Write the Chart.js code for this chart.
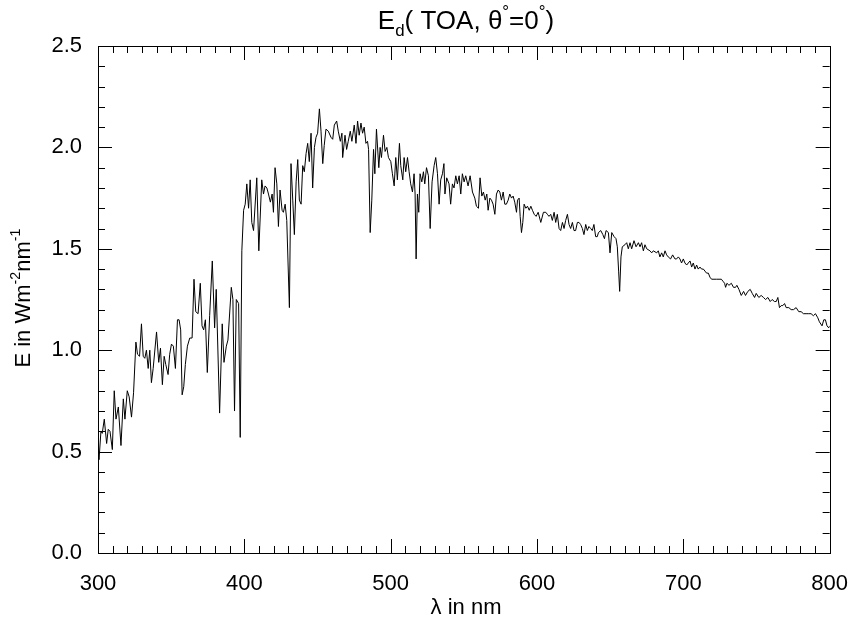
<!DOCTYPE html>
<html>
<head>
<meta charset="utf-8">
<script src="https://cdn.jsdelivr.net/npm/chart.js@4.4.0/dist/chart.umd.min.js"></script>
<style>
  html, body { margin: 0; padding: 0; background: #fff; }
</style>
</head>
<body>
<canvas id="spectrum" width="858" height="622"></canvas>
<script>
// wavelength (nm) and top-of-atmosphere irradiance
var wavelengths = [
  300.0,300.7,302.0,302.9,304.3,305.9,307.0,308.2,309.8,311.1,312.3,313.9,315.7,317.3,318.4,320.0,
  321.3,322.9,324.3,325.9,327.0,328.4,329.7,330.9,332.0,333.1,334.3,335.4,336.5,337.7,340.0,341.5,
  342.7,344.0,345.2,346.3,347.9,349.0,350.2,351.5,352.9,354.3,355.4,356.5,357.5,358.6,359.7,361.1,
  362.7,364.3,365.6,366.8,368.4,369.9,371.1,372.2,373.4,374.7,376.3,378.1,379.7,380.8,383.1,384.9,
  386.1,387.7,388.8,391.1,392.2,393.3,394.5,396.1,397.2,398.3,399.5,400.6,401.7,402.9,404.0,405.1,
  406.3,408.5,409.9,411.9,413.1,414.2,415.4,416.5,417.8,419.0,419.9,421.0,422.2,423.3,424.4,425.8,
  426.7,427.9,429.0,430.8,431.9,433.1,434.2,435.4,436.5,437.6,438.8,439.9,441.0,442.2,443.3,444.4,
  445.6,446.7,447.9,449.0,450.1,451.3,452.4,453.6,454.6,455.8,457.4,459.2,460.4,461.5,463.1,464.2,
  465.6,466.7,467.2,468.8,469.9,471.0,472.4,473.5,475.1,476.3,477.4,478.5,479.7,480.8,481.9,483.1,
  484.2,484.9,486.0,487.1,488.3,489.2,490.3,491.9,492.8,493.7,495.1,496.2,497.4,498.5,500.1,501.2,
  502.4,503.5,504.6,506.0,506.9,508.3,509.2,510.3,511.5,512.6,513.7,514.9,516.0,516.7,517.4,518.3,
  519.2,520.1,521.3,522.4,523.3,524.5,525.8,527.0,528.3,529.7,530.8,532.0,533.1,534.2,535.4,536.4,
  537.1,538.3,539.9,541.0,542.2,543.3,544.5,545.6,546.8,547.9,549.0,550.2,551.3,552.9,554.3,555.9,
  557.5,558.6,560.0,561.1,562.3,563.4,564.6,565.7,566.6,567.8,568.9,570.0,571.2,572.3,573.5,574.6,
  575.7,576.9,578.0,579.1,580.3,581.4,582.6,583.7,584.8,586.0,586.7,587.8,588.5,589.4,590.3,591.2,
  592.4,593.5,594.7,595.8,596.9,598.1,599.4,600.8,602.6,604.4,606.0,607.1,608.2,609.4,610.5,611.7,
  612.8,613.9,615.1,616.2,617.4,618.5,619.6,620.8,621.9,623.0,624.2,625.3,626.4,627.6,628.7,629.8,
  631.0,632.1,633.3,634.4,635.5,636.7,637.8,638.9,640.1,641.2,642.0,643.6,645.0,646.1,647.2,648.8,
  649.9,651.1,652.7,654.0,654.9,655.8,656.5,657.4,658.3,660.1,661.3,662.4,663.6,664.7,666.3,667.7,
  669.3,670.4,671.5,672.7,673.8,675.0,677.2,678.4,679.5,681.8,682.9,684.0,685.2,686.3,687.5,688.6,
  689.7,691.3,692.7,694.3,695.4,696.6,697.7,698.8,700.0,701.1,702.3,703.4,704.6,705.7,706.8,708.0,
  709.1,710.2,711.4,712.5,713.7,714.8,715.9,717.1,718.2,719.3,720.3,722.6,724.4,726.0,727.1,728.2,
  728.9,729.8,731.2,732.8,734.3,735.7,736.6,738.0,739.6,741.2,742.5,744.1,745.7,747.1,748.7,749.8,
  751.6,753.2,754.8,756.2,757.8,759.4,760.7,762.3,763.5,764.6,765.7,766.9,768.0,769.2,770.3,772.1,
  773.7,775.3,777.1,778.9,780.5,782.1,783.9,785.7,787.3,788.9,790.3,791.9,793.0,794.8,796.0,797.1,
  798.2,799.4,800.0
];
var irradiance = [
  0.52,0.46,0.60,0.59,0.66,0.54,0.61,0.60,0.51,0.80,0.66,0.72,0.53,0.76,0.66,0.80,
  0.77,0.67,0.79,1.04,0.98,0.97,1.13,0.97,0.96,1.00,0.91,1.00,0.84,0.91,1.09,0.94,
  1.01,0.83,0.97,0.93,0.88,0.98,1.03,1.02,0.91,1.15,1.15,1.10,0.78,0.82,0.93,1.02,
  1.06,1.06,1.35,1.19,1.18,1.33,1.12,1.10,1.15,0.89,1.17,1.44,1.11,1.30,0.69,1.13,
  0.94,1.02,1.05,1.31,1.25,0.70,1.25,1.23,0.57,1.49,1.69,1.72,1.82,1.70,1.84,1.63,
  1.59,1.85,1.49,1.84,1.77,1.81,1.80,1.77,1.73,1.77,1.68,1.90,1.82,1.61,1.79,1.69,
  1.68,1.72,1.64,1.21,1.92,1.74,1.57,1.83,1.94,1.74,1.72,1.91,1.88,1.97,2.02,1.93,
  2.07,1.80,2.00,2.05,2.07,2.19,2.08,1.92,2.01,2.09,2.08,2.05,2.04,2.11,2.13,2.08,
  2.03,2.07,1.95,2.06,1.99,2.03,2.08,2.03,2.11,2.02,2.13,2.06,2.12,2.07,2.10,2.02,
  2.03,1.99,1.58,1.74,1.99,1.87,2.09,1.90,2.00,1.95,2.06,1.98,2.00,1.95,1.93,1.87,
  1.81,1.95,1.84,2.02,1.91,1.84,1.95,1.88,1.95,1.88,1.82,1.78,1.87,1.77,1.45,1.77,
  1.68,1.87,1.83,1.88,1.82,1.90,1.86,1.60,1.83,1.91,1.95,1.87,1.72,1.84,1.87,1.92,
  1.77,1.85,1.82,1.72,1.82,1.80,1.86,1.82,1.86,1.77,1.87,1.83,1.86,1.81,1.86,1.78,
  1.75,1.71,1.70,1.85,1.76,1.78,1.74,1.77,1.69,1.75,1.74,1.72,1.67,1.77,1.79,1.78,
  1.74,1.78,1.72,1.72,1.74,1.77,1.75,1.76,1.73,1.68,1.74,1.75,1.66,1.58,1.63,1.72,
  1.70,1.71,1.69,1.71,1.69,1.67,1.66,1.68,1.63,1.68,1.68,1.67,1.66,1.67,1.64,1.68,
  1.63,1.67,1.60,1.59,1.63,1.60,1.64,1.67,1.62,1.60,1.63,1.59,1.59,1.63,1.63,1.62,
  1.60,1.57,1.62,1.59,1.61,1.60,1.59,1.62,1.56,1.56,1.58,1.59,1.57,1.55,1.59,1.58,
  1.48,1.58,1.56,1.55,1.51,1.39,1.29,1.46,1.51,1.52,1.53,1.50,1.53,1.50,1.54,1.51,
  1.53,1.51,1.53,1.49,1.52,1.50,1.49,1.48,1.49,1.48,1.49,1.46,1.48,1.46,1.49,1.47,
  1.46,1.45,1.47,1.45,1.45,1.46,1.45,1.43,1.45,1.43,1.42,1.43,1.44,1.41,1.43,1.40,
  1.42,1.40,1.41,1.40,1.40,1.39,1.38,1.38,1.36,1.35,1.35,1.35,1.35,1.35,1.34,1.33,
  1.31,1.33,1.32,1.33,1.31,1.31,1.32,1.30,1.27,1.29,1.27,1.29,1.30,1.28,1.26,1.28,
  1.26,1.27,1.26,1.25,1.26,1.24,1.25,1.24,1.24,1.26,1.21,1.22,1.22,1.23,1.21,1.21,
  1.20,1.20,1.21,1.19,1.19,1.18,1.18,1.18,1.18,1.17,1.18,1.16,1.14,1.12,1.15,1.15,
  1.12,1.11,1.12
];
var xTicks = [300, 400, 500, 600, 700, 800];
var yTicks = [0.0, 0.5, 1.0, 1.5, 2.0, 2.5];
var xMinorStep = 10;
var yMinorStep = 0.1;

var FONT = '"Liberation Sans", Arial, sans-serif';
Chart.defaults.font.family = FONT;
Chart.defaults.color = '#000';

var points = wavelengths.map(function(w, i){ return {x: w, y: irradiance[i]}; });

// draws a run of text pieces, some of them raised or lowered
function richWidth(ctx, parts, size){
  var w = 0;
  parts.forEach(function(p){
    ctx.font = (p.pos ? size * 0.65 : size) + 'px ' + FONT;
    w += ctx.measureText(p.t).width;
  });
  return w;
}
function drawRich(ctx, parts, x, y, size){
  var cx = x - richWidth(ctx, parts, size) / 2;
  ctx.textAlign = 'left';
  ctx.textBaseline = 'alphabetic';
  parts.forEach(function(p){
    var s = p.pos ? size * 0.65 : size;
    var dy = p.pos === 'sub' ? size * 0.25 : (p.pos === 'sup' ? -size * 0.45 : 0);
    ctx.font = s + 'px ' + FONT;
    ctx.fillText(p.t, cx, y + dy);
    cx += ctx.measureText(p.t).width;
  });
}

var idlFrame = {
  id: 'idlFrame',
  afterDraw: function(chart){
    var ctx = chart.ctx, a = chart.chartArea;
    var xs = chart.scales.x, ys = chart.scales.y;
    ctx.save();
    ctx.strokeStyle = '#000';
    ctx.lineWidth = 1;
    ctx.strokeRect(Math.round(a.left) + 0.5, Math.round(a.top) + 0.5,
                   Math.round(a.right - a.left), Math.round(a.bottom - a.top));
    ctx.beginPath();
    var i, v, p, len;
    for (i = 0; i <= 50; i++){
      v = 300 + i * xMinorStep;
      p = Math.round(xs.getPixelForValue(v)) + 0.5;
      len = (i % 10 === 0) ? 14 : 7;
      ctx.moveTo(p, a.bottom); ctx.lineTo(p, a.bottom - len);
      ctx.moveTo(p, a.top); ctx.lineTo(p, a.top + len);
    }
    for (i = 0; i <= 25; i++){
      v = i * yMinorStep;
      p = Math.round(ys.getPixelForValue(v)) + 0.5;
      len = (i % 5 === 0) ? 14 : 7;
      ctx.moveTo(a.left, p); ctx.lineTo(a.left + len, p);
      ctx.moveTo(a.right, p); ctx.lineTo(a.right - len, p);
    }
    ctx.stroke();

    ctx.fillStyle = '#000';
    drawRich(ctx, [{t: 'E'}, {t: 'd', pos: 'sub'}, {t: '( TOA, \u03b8'}, {t: '\u00b0', pos: 'sup'},
                   {t: '=0'}, {t: '\u00b0', pos: 'sup'}, {t: ')'}], 466, 29, 26);
    drawRich(ctx, [{t: '\u03bb in nm'}], 466, 614, 22);
    ctx.translate(30, 298);
    ctx.rotate(-Math.PI / 2);
    drawRich(ctx, [{t: 'E in Wm'}, {t: '-2', pos: 'sup'}, {t: 'nm'}, {t: '-1', pos: 'sup'}], 0, 0, 22);
    ctx.restore();
  }
};

new Chart(document.getElementById('spectrum').getContext('2d'), {
  type: 'line',
  data: {
    datasets: [{
      data: points,
      borderColor: '#000',
      borderWidth: 1,
      pointRadius: 0,
      tension: 0,
      fill: false
    }]
  },
  options: {
    responsive: false,
    devicePixelRatio: 1,
    animation: false,
    layout: { padding: { left: 0, right: 26, top: 46, bottom: 0 } },
    plugins: { legend: { display: false }, tooltip: { enabled: false } },
    scales: {
      x: {
        type: 'linear', min: 300, max: 800,
        grid: { display: false }, border: { display: false },
        afterBuildTicks: function(s){ s.ticks = xTicks.map(function(v){ return {value: v}; }); },
        afterFit: function(s){ s.height = 69; },
        ticks: { font: { size: 22 }, padding: 10, maxRotation: 0, autoSkip: false,
                 callback: function(v){ return String(v); } }
      },
      y: {
        min: 0, max: 2.5,
        grid: { display: false }, border: { display: false },
        afterBuildTicks: function(s){ s.ticks = yTicks.map(function(v){ return {value: v}; }); },
        afterFit: function(s){ s.width = 98; },
        ticks: { font: { size: 22 }, padding: 8, autoSkip: false,
                 callback: function(v){ return v.toFixed(1); } }
      }
    }
  },
  plugins: [idlFrame]
});
</script>
</body>
</html>
